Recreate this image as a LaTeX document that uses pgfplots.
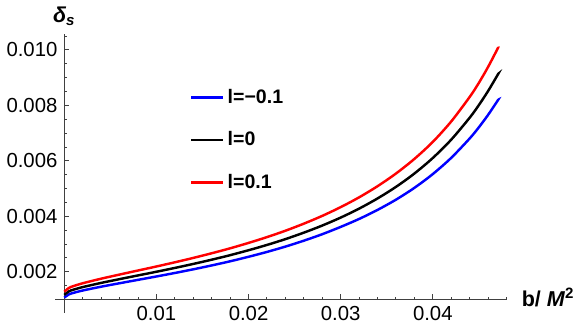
\documentclass[border=0pt]{standalone}
\usepackage{pgfplots}
\pgfplotsset{compat=1.18}
\usepackage{fontspec}
\setmainfont{Liberation Sans}
\begin{document}
\begin{tikzpicture}
\begin{axis}[
  scale only axis,
  width=226.5pt, height=135.7pt,
  xmin=0, xmax=0.04806,
  ymin=0.001, ymax=0.010565,
  axis lines=left,
  axis line style={-, black!75, line width=0.5pt},
  tick style={black!75, line width=0.5pt},
  tick align=inside,
  major tick length=2.6pt,
  minor tick length=1.5pt,
  scaled ticks=false,
  /pgf/number format/assume math mode=true,
  tick label style={font=\fontsize{10.4}{12}\selectfont},
  xtick={0.01,0.02,0.03,0.04},
  xticklabels={0.01,0.02,0.03,0.04},
  minor xtick={0.002,0.004,0.006,0.008,0.012,0.014,0.016,0.018,0.022,0.024,0.026,0.028,0.032,0.034,0.036,0.038,0.042,0.044,0.046,0.048},
  ytick={0.002,0.004,0.006,0.008,0.010},
  yticklabels={0.002,0.004,0.006,0.008,0.010},
  minor ytick={0.0015,0.0025,0.003,0.0035,0.0045,0.005,0.0055,0.0065,0.007,0.0075,0.0085,0.009,0.0095,0.0105},
  clip=false,
  legend cell align=left,
  legend style={draw=none, fill=none, at={(0.27,0.825)}, anchor=north west,
    font=\fontsize{10}{12}\selectfont\bfseries, row sep=9pt},
  legend image code/.code={\draw[#1] (0pt,0pt) -- (16pt,0pt);},
]
\addplot[blue, line width=1.25pt, smooth] coordinates {
(0,0.001071) (0.0005,0.001187) (0.001,0.001242) (0.002,0.001327) (0.004,0.001465) (0.006,0.001589) (0.008,0.001711) (0.010,0.001833) (0.012,0.001959) (0.014,0.002091) (0.016,0.002231) (0.018,0.002380) (0.020,0.002543) (0.022,0.002718) (0.024,0.002910) (0.026,0.003123) (0.028,0.003357) (0.030,0.003620) (0.032,0.003907) (0.034,0.004233) (0.036,0.004602) (0.038,0.005028) (0.040,0.005525) (0.042,0.006110) (0.044,0.006808) (0.045,0.007211) (0.046,0.007658) (0.047,0.008153) (0.0471,0.008208)
};
\addlegendentry{l=−0.1}
\addplot[black, line width=1.25pt, smooth] coordinates {
(0,0.001170) (0.0005,0.001297) (0.001,0.001357) (0.002,0.001450) (0.004,0.001601) (0.006,0.001737) (0.008,0.001870) (0.010,0.002003) (0.012,0.002141) (0.014,0.002285) (0.016,0.002438) (0.018,0.002601) (0.020,0.002779) (0.022,0.002970) (0.024,0.003180) (0.026,0.003413) (0.028,0.003669) (0.030,0.003956) (0.032,0.004279) (0.034,0.004646) (0.036,0.005063) (0.038,0.005544) (0.040,0.006105) (0.042,0.006766) (0.044,0.007556) (0.045,0.008012) (0.046,0.008518) (0.047,0.009079) (0.0471,0.009140)
};
\addlegendentry{l=0}
\addplot[red, line width=1.25pt, smooth] coordinates {
(0,0.001281) (0.0005,0.001420) (0.001,0.001486) (0.002,0.001588) (0.004,0.001753) (0.006,0.001902) (0.008,0.002048) (0.010,0.002193) (0.012,0.002344) (0.014,0.002502) (0.016,0.002670) (0.018,0.002848) (0.020,0.003043) (0.022,0.003252) (0.024,0.003482) (0.026,0.003737) (0.028,0.004018) (0.030,0.004332) (0.032,0.004686) (0.034,0.005087) (0.036,0.005544) (0.038,0.006071) (0.040,0.006685) (0.042,0.007422) (0.044,0.008304) (0.045,0.008813) (0.046,0.009387) (0.047,0.010023) (0.0471,0.010100)
};
\addlegendentry{l=0.1}
\coordinate (O) at (axis cs:0,0.001);
\node[anchor=south, font=\fontsize{11}{13}\selectfont\bfseries\itshape] at (axis cs:0,0.010565) [yshift=1pt] {δ\textsubscript{s}};
\node[anchor=west, font=\fontsize{11}{13}\selectfont\bfseries] at (axis cs:0.04806,0.001) [xshift=4pt,yshift=1pt] {b/ \textit{M}\textsuperscript{2}};
\end{axis}
\draw[black!75, line width=0.5pt] (O) -- ++(0pt,-7pt);
\draw[black!75, line width=0.5pt] (O) -- ++(-4.5pt,0pt);
\end{tikzpicture}
\end{document}
